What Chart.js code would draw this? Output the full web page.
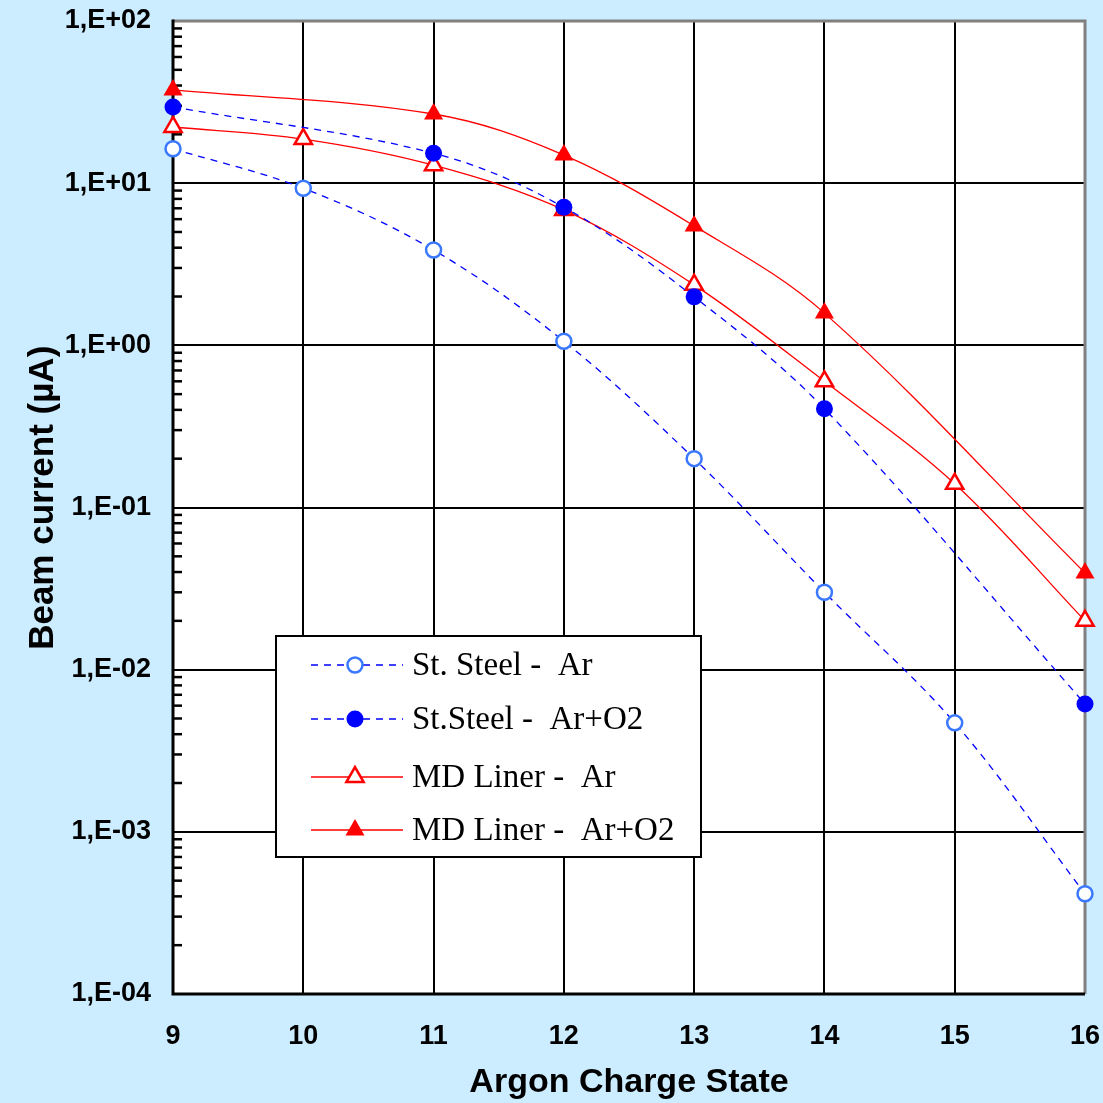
<!DOCTYPE html>
<html><head><meta charset="utf-8">
<script src="https://cdn.jsdelivr.net/npm/chart.js@4/dist/chart.umd.min.js"></script>
<style>html,body{margin:0;padding:0;background:#ccecff;overflow:hidden}</style>
</head><body>
<canvas id="c" width="1103" height="1103" style="display:block;width:1103px;height:1103px"></canvas>
<script>
// ---- data ----
const chargeStates = [9, 10, 11, 12, 13, 14, 15, 16];
const stSteelAr = [16.3, 9.3, 3.87, 1.06, 0.20, 0.030, 0.0047, 0.000415];
const stSteelArO2States = [9, 11, 12, 13, 14, 16];
const stSteelArO2 = [29.5, 15.3, 7.1, 1.99, 0.406, 0.00615];
const mdLinerAr = [22.2, 18.7, 12.9, 6.84, 2.36, 0.60, 0.14, 0.020];
const mdLinerArO2States = [9, 11, 12, 13, 14, 16];
const mdLinerArO2 = [37.6, 26.7, 14.9, 5.45, 1.58, 0.0395];
const seriesNames = ['St. Steel -  Ar', 'St.Steel -  Ar+O2', 'MD Liner -  Ar', 'MD Liner -  Ar+O2'];
const yTickValues = [1e-4, 1e-3, 1e-2, 1e-1, 1, 10, 100];
const yTickLabels = ['1,E-04', '1,E-03', '1,E-02', '1,E-01', '1,E+00', '1,E+01', '1,E+02'];
const xTickValues = [9, 10, 11, 12, 13, 14, 15, 16];
const xTitle = 'Argon Charge State';
const yTitle = 'Beam current (µA)';

const pts = (xs, ys) => xs.map((x, i) => ({x: x, y: ys[i]}));

const BLUE_LINE = '#0000ff', OPEN_BLUE = '#3a78ff', RED = '#ff0000';

const datasets = [
  {label: seriesNames[0], data: pts(chargeStates, stSteelAr), borderColor: BLUE_LINE, borderWidth: 1.3, borderDash: [7, 6],
   pointStyle: 'circle', pointRadius: 7.5, pointBorderWidth: 2.5, pointBorderColor: OPEN_BLUE, pointBackgroundColor: '#ffffff'},
  {label: seriesNames[1], data: pts(stSteelArO2States, stSteelArO2), borderColor: BLUE_LINE, borderWidth: 1.3, borderDash: [7, 6],
   pointStyle: 'circle', pointRadius: 8.5, pointBorderWidth: 0, pointBorderColor: BLUE_LINE, pointBackgroundColor: BLUE_LINE},
  {label: seriesNames[2], data: pts(chargeStates, mdLinerAr), borderColor: RED, borderWidth: 1.3,
   pointStyle: 'triangle', pointRadius: 10, pointBorderWidth: 2.5, pointBorderColor: RED, pointBackgroundColor: '#ffffff'},
  {label: seriesNames[3], data: pts(mdLinerArO2States, mdLinerArO2), borderColor: RED, borderWidth: 1.3,
   pointStyle: 'triangle', pointRadius: 11, pointBorderWidth: 0, pointBorderColor: RED, pointBackgroundColor: RED}
];
datasets.forEach(d => { d.tension = 0.35; d.fill = false; d.pointHoverRadius = d.pointRadius; d.clip = 12; });

function drawMarker(ctx, ds, x, y) {
  ctx.save();
  ctx.fillStyle = ds.pointBackgroundColor;
  ctx.strokeStyle = ds.pointBorderColor;
  ctx.lineWidth = ds.pointBorderWidth;
  ctx.setLineDash([]);
  const r = ds.pointRadius;
  ctx.beginPath();
  if (ds.pointStyle === 'circle') {
    ctx.arc(x, y, r, 0, Math.PI * 2);
  } else {
    let rad = 0;
    ctx.moveTo(x + Math.sin(rad) * r, y - Math.cos(rad) * r);
    rad += 2 * Math.PI / 3;
    ctx.lineTo(x + Math.sin(rad) * r, y - Math.cos(rad) * r);
    rad += 2 * Math.PI / 3;
    ctx.lineTo(x + Math.sin(rad) * r, y - Math.cos(rad) * r);
    ctx.closePath();
  }
  ctx.fill();
  if (ds.pointBorderWidth > 0) ctx.stroke();
  ctx.restore();
}

const framePlugin = {
  id: 'frame',
  beforeDraw(chart) {
    const {ctx, chartArea: a} = chart;
    ctx.save();
    ctx.fillStyle = '#ccecff';
    ctx.fillRect(0, 0, chart.width, chart.height);
    ctx.fillStyle = '#ffffff';
    ctx.fillRect(a.left, a.top, a.right - a.left, a.bottom - a.top);
    ctx.restore();
  },
  beforeDatasetsDraw(chart) {
    const {ctx, chartArea: a} = chart;
    const ys = chart.scales.y;
    ctx.save();
    ctx.strokeStyle = '#808080';
    ctx.lineWidth = 3;
    ctx.beginPath();
    ctx.moveTo(a.left, a.top); ctx.lineTo(a.right, a.top); ctx.lineTo(a.right, a.bottom);
    ctx.stroke();
    ctx.strokeStyle = '#000000';
    ctx.beginPath();
    ctx.moveTo(a.left, a.top - 1.5); ctx.lineTo(a.left, a.bottom); ctx.lineTo(a.right, a.bottom);
    ctx.stroke();
    ctx.lineWidth = 2.5;
    for (let e = -4; e < 2; e++) {
      for (let m = 2; m <= 9; m++) {
        const py = ys.getPixelForValue(m * Math.pow(10, e));
        ctx.beginPath();
        ctx.moveTo(a.left, py); ctx.lineTo(a.left + 9, py);
        ctx.stroke();
      }
    }
    ctx.restore();
  },
  afterDatasetsDraw(chart) {
    const {ctx} = chart;
    const bx = 276, by = 636, bw = 425, bh = 221;
    ctx.save();
    ctx.fillStyle = '#ffffff';
    ctx.fillRect(bx, by, bw, bh);
    ctx.strokeStyle = '#000000';
    ctx.lineWidth = 2;
    ctx.strokeRect(bx, by, bw, bh);
    const rows = [665, 719, 777, 830];
    chart.data.datasets.forEach((ds, i) => {
      const y = rows[i];
      ctx.save();
      ctx.strokeStyle = ds.borderColor;
      ctx.lineWidth = ds.borderWidth;
      ctx.setLineDash(ds.borderDash || []);
      ctx.beginPath();
      ctx.moveTo(311, y); ctx.lineTo(403, y);
      ctx.stroke();
      ctx.restore();
      drawMarker(ctx, ds, 355, y);
      ctx.fillStyle = '#000000';
      ctx.font = '33px "Liberation Serif", "Times New Roman", serif';
      ctx.textAlign = 'left';
      ctx.textBaseline = 'middle';
      ctx.fillText(ds.label, 412, y + 1);
    });
    ctx.restore();
  }
};

new Chart(document.getElementById('c'), {
  type: 'line',
  data: {datasets: datasets},
  plugins: [framePlugin],
  options: {
    responsive: false,
    devicePixelRatio: 1,
    animation: false,
    events: [],
    layout: {padding: {left: 0, top: 21, right: 18, bottom: 0}},
    plugins: {legend: {display: false}, tooltip: {enabled: false}},
    scales: {
      x: {
        type: 'linear', min: 9, max: 16,
        afterFit(s) { s.height = 109; s.paddingLeft = 0; s.paddingRight = 0; },
        afterBuildTicks(s) { s.ticks = xTickValues.map(v => ({value: v})); },
        grid: {color: '#000000', lineWidth: 2, drawTicks: false},
        border: {display: false},
        ticks: {padding: 26, color: '#000000', maxRotation: 0, font: {family: 'Liberation Sans, Arial, sans-serif', size: 27, weight: 'bold'},
                callback: (v) => String(v)},
        title: {display: true, text: xTitle, color: '#000000', padding: {top: 0, bottom: 0},
                font: {family: 'Liberation Sans, Arial, sans-serif', size: 34, weight: 'bold'}}
      },
      y: {
        type: 'logarithmic', min: 1e-4, max: 100,
        afterFit(s) { s.width = 173; s.paddingTop = 0; s.paddingBottom = 0; },
        afterBuildTicks(s) { s.ticks = yTickValues.map(v => ({value: v, major: true})); },
        grid: {color: '#000000', lineWidth: 2, drawTicks: false},
        border: {display: false},
        ticks: {padding: 22, color: '#000000', autoSkip: false, font: {family: 'Liberation Sans, Arial, sans-serif', size: 27, weight: 'bold'},
                callback: (v) => { const i = yTickValues.findIndex(t => Math.abs(Math.log10(t) - Math.log10(v)) < 1e-6); return i >= 0 ? yTickLabels[i] : ''; }},
        title: {display: true, text: '  ' + yTitle, color: '#000000', padding: {top: 22, bottom: 0},
                font: {family: 'Liberation Sans, Arial, sans-serif', size: 35, weight: 'bold'}}
      }
    }
  }
});
</script>
</body></html>
